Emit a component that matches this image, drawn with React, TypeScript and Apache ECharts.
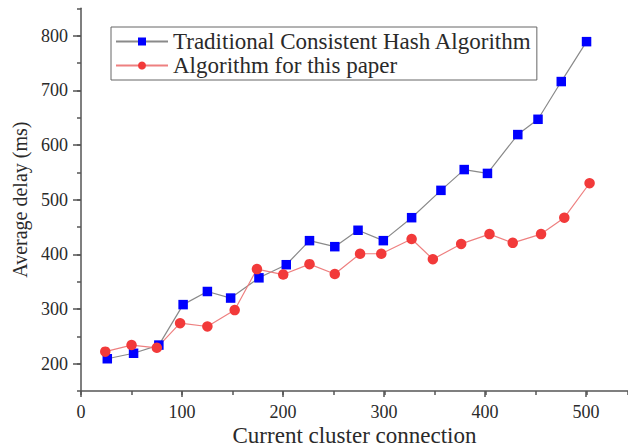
import React, { useEffect, useRef } from "react";
import * as echarts from "echarts";

const seriesNames = ["Traditional Consistent Hash Algorithm", "Algorithm for this paper"];
const xBlue = [26, 52, 77, 101, 125, 148, 176, 203, 226, 251, 274, 299, 327, 356, 379, 402, 432, 452, 475, 500];
const yBlue = [209, 219, 234, 308, 332, 320, 357, 381, 425, 414, 444, 425, 467, 517, 555, 548, 619, 647, 716, 789];
const xRed = [24, 50, 75, 98, 125, 152, 174, 200, 226, 251, 276, 297, 327, 348, 376, 404, 427, 455, 478, 503];
const yRed = [222, 234, 229, 274, 268, 298, 373, 363, 382, 364, 401, 401, 428, 391, 419, 437, 421, 437, 467, 530];
const xTitle = "Current cluster connection";
const yTitle = "Average delay (ms)";

const FONT = "'Liberation Serif', 'Times New Roman', serif";
const AXIS = "#555";
const TXT = "#2a2a2a";

export default function App() {
  const ref = useRef<HTMLDivElement>(null);
  useEffect(() => {
    document.body.style.margin = "0";
    const chart = echarts.init(ref.current!, undefined, { renderer: "svg" });
    const hidden = { show: false };
    const gridBase = { outerBoundsMode: "none", containLabel: false };
    chart.setOption({
      animation: false,
      backgroundColor: "#fff",
      textStyle: { fontFamily: FONT },
      legend: {
        orient: "vertical",
        left: 111,
        top: 27,
        itemWidth: 52,
        itemHeight: 10,
        itemGap: 1,
        padding: [3, 5, 3, 4],
        borderColor: "#666",
        borderWidth: 1,
        textStyle: { fontSize: 23, fontFamily: FONT, color: TXT },
        data: seriesNames,
      },
      grid: [
        { ...gridBase, left: 81, right: 0, top: 8.3, bottom: 55 },
        { ...gridBase, left: 81, width: 505, top: 8.3, bottom: 55 },
        { ...gridBase, left: 81, right: 0, top: 35.7, bottom: 82.3 },
      ],
      xAxis: [
        {
          gridIndex: 0, type: "value", min: 0, max: 541, interval: 50,
          axisLine: { show: true, lineStyle: { color: AXIS, width: 1.5 } },
          axisTick: { show: true, length: 4, lineStyle: { color: AXIS, width: 1.5 } },
          axisLabel: { show: false }, splitLine: { show: false },
          name: xTitle, nameLocation: "middle", nameGap: 35,
          nameTextStyle: { fontSize: 23, lineHeight: 18, fontFamily: FONT, color: TXT },
        },
        {
          gridIndex: 1, type: "value", min: 0, max: 500, interval: 100,
          axisLine: { show: false },
          axisTick: { show: true, length: 6, lineStyle: { color: AXIS, width: 1.5 } },
          axisLabel: { show: true, fontSize: 18, fontFamily: FONT, color: TXT, margin: 12 },
          splitLine: { show: false },
        },
        { gridIndex: 2, type: "value", min: 0, max: 500, ...hidden },
      ],
      yAxis: [
        {
          gridIndex: 0, type: "value", min: 150, max: 850, interval: 50,
          axisLine: { show: true, lineStyle: { color: AXIS, width: 1.5 } },
          axisTick: { show: true, length: 4, lineStyle: { color: AXIS, width: 1.5 } },
          axisLabel: { show: false }, splitLine: { show: false },
          name: yTitle, nameLocation: "middle", nameGap: 51, nameRotate: 90,
          nameTextStyle: { fontSize: 20, fontFamily: FONT, color: TXT },
        },
        { gridIndex: 1, type: "value", min: 150, max: 850, ...hidden },
        {
          gridIndex: 2, type: "value", min: 200, max: 800, interval: 100,
          axisLine: { show: false },
          axisTick: { show: true, length: 8, lineStyle: { color: AXIS, width: 1.5 } },
          axisLabel: { show: true, fontSize: 18, fontFamily: FONT, color: TXT, margin: 13 },
          splitLine: { show: false },
        },
      ],
      series: [
        {
          name: seriesNames[0], type: "line", xAxisIndex: 0, yAxisIndex: 0,
          data: xBlue.map((x, i) => [x, yBlue[i]]),
          symbol: "rect", symbolSize: 9.5,
          itemStyle: { color: "#0000ff" },
          lineStyle: { color: "#8a8a8a", width: 1.2 },
        },
        {
          name: seriesNames[1], type: "line", xAxisIndex: 0, yAxisIndex: 0,
          data: xRed.map((x, i) => [x, yRed[i]]),
          symbol: "circle", symbolSize: 10.5,
          itemStyle: { color: "#f23a3a" },
          lineStyle: { color: "#ee8080", width: 1.2 },
        },
      ],
    });
    return () => chart.dispose();
  }, []);
  return (
    <div
      ref={ref}
      style={{ position: "absolute", left: 0, top: 0, width: 628, height: 446 }}
    />
  );
}
